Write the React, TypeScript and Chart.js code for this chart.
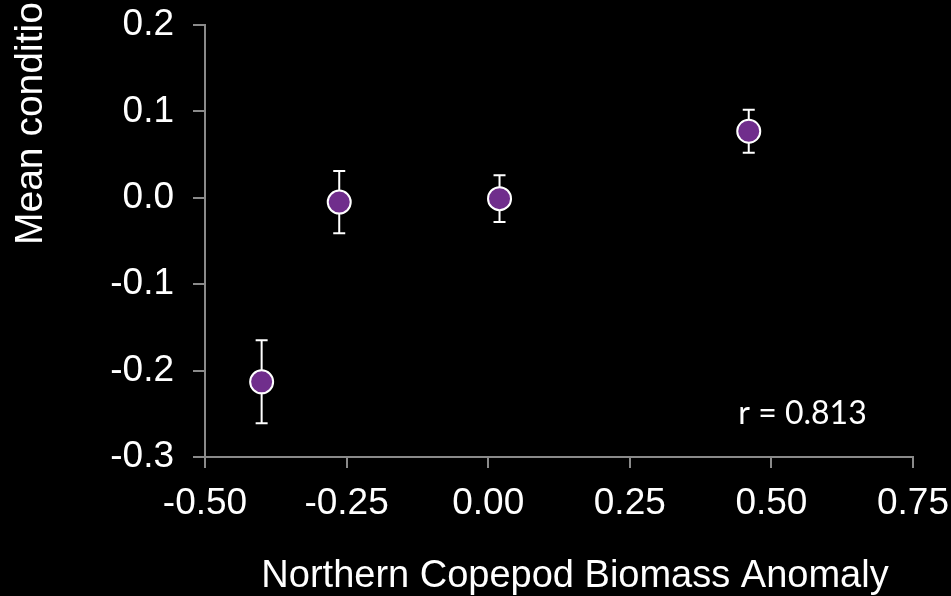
import React, { useEffect, useRef } from "react";
import { Chart, registerables } from "chart.js";

Chart.register(...registerables);

const xValues = [-0.4, -0.263, 0.02, 0.46];
const yValues = [-0.213, -0.005, -0.001, 0.077];
const yErrors = [0.048, 0.036, 0.027, 0.025];
const xTicks = [-0.5, -0.25, 0, 0.25, 0.5, 0.75];
const yTicks = [-0.3, -0.2, -0.1, 0.0, 0.1, 0.2];
const xTitle = "Northern Copepod Biomass Anomaly";
const yTitle = "Mean condition index";
const annotationText = "r = 0.813";

const AXIS_COLOR = "#8a8a8a";
const POINT_COLOR = "#702E8C";
const TICK_FONT = "'Liberation Sans', Arial, sans-serif";

const errorBarPlugin = {
  id: "errorBars",
  beforeDatasetsDraw(chart: any) {
    const { ctx, scales } = chart;
    const xs = scales.x;
    const ys = scales.y;
    ctx.save();
    ctx.strokeStyle = "#ffffff";
    ctx.lineWidth = 2;
    for (let i = 0; i < xValues.length; i++) {
      const px = xs.getPixelForValue(xValues[i]);
      const top = ys.getPixelForValue(yValues[i] + yErrors[i]);
      const bot = ys.getPixelForValue(yValues[i] - yErrors[i]);
      ctx.beginPath();
      ctx.moveTo(px, top);
      ctx.lineTo(px, bot);
      ctx.moveTo(px - 6, top);
      ctx.lineTo(px + 6, top);
      ctx.moveTo(px - 6, bot);
      ctx.lineTo(px + 6, bot);
      ctx.stroke();
    }
    ctx.restore();
  },
};

const titlesPlugin = {
  id: "titles",
  beforeDraw(chart: any) {
    const { ctx, width, height } = chart;
    ctx.save();
    ctx.fillStyle = "#000000";
    ctx.fillRect(0, 0, width, height);
    ctx.restore();
  },
  afterDraw(chart: any) {
    const { ctx, chartArea, scales } = chart;
    ctx.save();
    ctx.fillStyle = "#ffffff";
    // x title
    ctx.font = `38px ${TICK_FONT}`;
    ctx.textAlign = "center";
    ctx.textBaseline = "alphabetic";
    ctx.fillText(xTitle, chartArea.left + 370, chartArea.bottom + 130);
    // y title (rotated)
    ctx.save();
    ctx.font = `39px ${TICK_FONT}`;
    ctx.translate(chartArea.left - 163, chartArea.top + 220);
    ctx.rotate(-Math.PI / 2);
    ctx.textAlign = "left";
    ctx.fillText(yTitle, 0, 0);
    ctx.restore();
    // annotation
    ctx.font = `32px Lato, 'Open Sans', sans-serif`;
    ctx.textAlign = "center";
    ctx.textBaseline = "middle";
    ctx.fillText(
      annotationText,
      scales.x.getPixelForValue(0.555),
      scales.y.getPixelForValue(-0.25)
    );
    ctx.restore();
  },
};

export default function App() {
  const canvasRef = useRef<HTMLCanvasElement | null>(null);

  useEffect(() => {
    if (!canvasRef.current) return;
    const chart = new Chart(canvasRef.current, {
      type: "scatter",
      data: {
        datasets: [
          {
            data: xValues.map((x, i) => ({ x, y: yValues[i] })),
            backgroundColor: POINT_COLOR,
            borderColor: "#ffffff",
            borderWidth: 2,
            pointRadius: 11.5,
            pointHoverRadius: 11.5,
          },
        ],
      },
      options: {
        animation: false,
        responsive: false,
        devicePixelRatio: 1,
        layout: { padding: { top: 25, right: 38, left: 0, bottom: 0 } },
        plugins: {
          legend: { display: false },
          tooltip: { enabled: false },
        },
        scales: {
          x: {
            type: "linear",
            min: -0.5,
            max: 0.75,
            afterBuildTicks: (s: any) => {
              s.ticks = xTicks.map((v) => ({ value: v }));
            },
            afterFit: (s: any) => {
              s.height = 139;
              s.paddingLeft = 0;
              s.paddingRight = 0;
            },
            ticks: {
              color: "#ffffff",
              font: { family: TICK_FONT, size: 37 },
              padding: 14,
              maxRotation: 0,
              autoSkip: false,
              callback: (v: any) => Number(v).toFixed(2),
            },
            grid: {
              display: true,
              drawOnChartArea: false,
              drawTicks: true,
              tickLength: 11,
              color: AXIS_COLOR,
              lineWidth: 2,
            },
            border: { display: true, color: AXIS_COLOR, width: 2 },
          },
          y: {
            type: "linear",
            min: -0.3,
            max: 0.2,
            afterBuildTicks: (s: any) => {
              s.ticks = yTicks.map((v) => ({ value: v }));
            },
            afterFit: (s: any) => {
              s.width = 205;
              s.paddingTop = 0;
              s.paddingBottom = 0;
            },
            ticks: {
              color: "#ffffff",
              font: { family: TICK_FONT, size: 37 },
              padding: 19,
              autoSkip: false,
              callback: (v: any) => Number(v).toFixed(1),
            },
            grid: {
              display: true,
              drawOnChartArea: false,
              drawTicks: true,
              tickLength: 12,
              color: AXIS_COLOR,
              lineWidth: 2,
            },
            border: { display: true, color: AXIS_COLOR, width: 2 },
          },
        },
      },
      plugins: [errorBarPlugin, titlesPlugin],
    });
    return () => chart.destroy();
  }, []);

  return (
    <div
      style={{
        position: "fixed",
        left: 0,
        top: 0,
        width: 951,
        height: 596,
        background: "#000000",
      }}
    >
      <canvas ref={canvasRef} width={951} height={596} style={{ display: "block" }} />
    </div>
  );
}
